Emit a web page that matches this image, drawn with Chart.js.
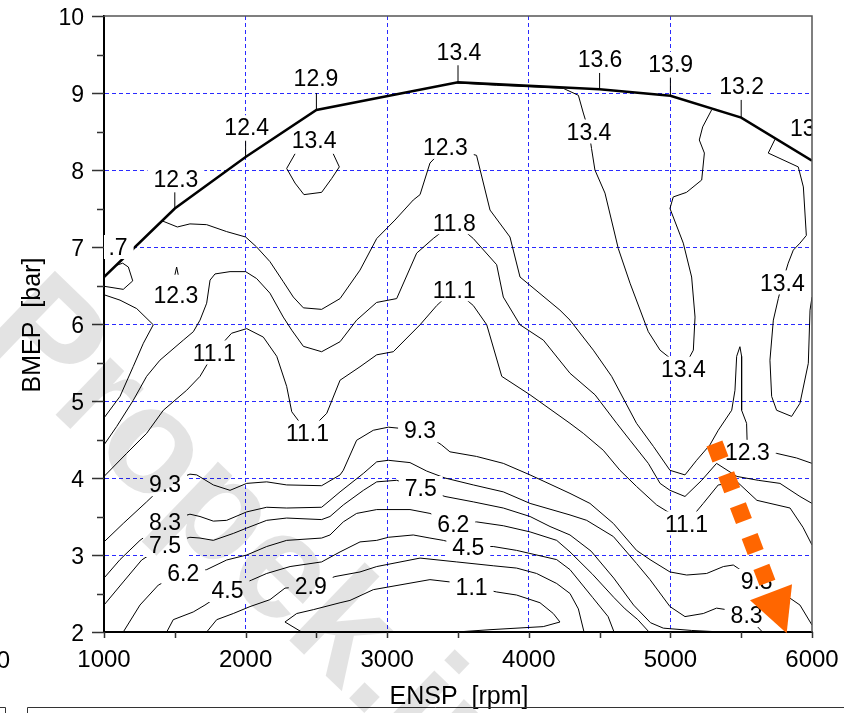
<!DOCTYPE html>
<html>
<head>
<meta charset="utf-8">
<script src="https://cdn.jsdelivr.net/npm/chart.js@4.4.0/dist/chart.umd.min.js"></script>
<style>
html, body { margin: 0; padding: 0; background: #fff; }
</style>
</head>
<body>
<canvas id="myChart" width="844" height="713"></canvas>
<script>
// axis values
const xTicks = [1000, 2000, 3000, 4000, 5000, 6000];
const yTicks = [2, 3, 4, 5, 6, 7, 8, 9, 10];

// full load line [rpm, bmep]
const fullLoad = [[1000,6.61],[1500,7.50],[2000,8.17],[2500,8.78],[3500,9.14],[4500,9.05],[5000,8.965],[5500,8.68],[6000,8.12]];

// contour lines [rpm, bmep]
const c1_1 = [[2396,2.0],[2278,2.13],[2361,2.24],[2478,2.29],[2667,2.38],[2737,2.41],[2902,2.55],[3302,2.68],[3443,2.65],[3596,2.59],[3773,2.52],[3914,2.48],[4079,2.38],[4173,2.24],[4220,2.13],[4102,2.07],[3726,2.03],[3490,2.0]];
const c2_9 = [[1725,2.0],[1796,2.16],[1913,2.24],[2031,2.33],[2172,2.42],[2278,2.57],[2460,2.60],[2631,2.72],[2808,2.78],[2926,2.85],[3232,2.96],[3491,2.91],[3749,2.86],[3914,2.83],[4055,2.76],[4197,2.63],[4291,2.50],[4350,2.30],[4390,2.0]];
const c4_5 = [[1443,2.0],[1489,2.16],[1630,2.26],[1713,2.35],[1872,2.545],[2043,2.675],[2149,2.76],[2314,2.85],[2537,2.91],[2667,3.04],[2808,3.17],[2926,3.19],[3008,3.23],[3184,3.26],[3302,3.22],[3396,3.19],[3573,3.11],[3749,3.11],[3914,3.06],[4008,3.02],[4197,2.94],[4291,2.81],[4450,2.45],[4560,2.20],[4602,2.0]];
const c6_2 = [[1136,2.0],[1254,2.35],[1384,2.61],[1560,2.77],[1725,2.81],[1866,2.935],[2008,3.0],[2149,3.11],[2290,3.19],[2537,3.22],[2596,3.26],[2690,3.43],[2784,3.54],[2926,3.59],[3161,3.59],[3302,3.54],[3467,3.41],[3631,3.43],[3820,3.38],[4009,3.30],[4197,3.19],[4291,3.04],[4450,2.75],[4600,2.45],[4680,2.30],[4770,2.16],[4849,2.0]];
const c7_5 = [[1000,2.35],[1136,2.65],[1266,2.935],[1431,3.13],[1607,3.23],[1678,3.22],[1772,3.19],[1913,3.28],[2008,3.35],[2149,3.45],[2290,3.48],[2537,3.46],[2596,3.50],[2690,3.65],[2832,3.84],[2926,3.95],[3067,3.97],[3237,3.87],[3408,3.76],[3608,3.69],[3820,3.61],[4009,3.50],[4150,3.37],[4291,3.26],[4440,3.05],[4600,2.70],[4740,2.35],[4860,2.12],[4950,2.05],[5150,2.02],[5364,2.0]];
const c8_3 = [[1000,2.70],[1113,2.94],[1254,3.19],[1431,3.43],[1607,3.53],[1678,3.50],[1772,3.44],[1866,3.45],[2008,3.56],[2149,3.62],[2290,3.61],[2537,3.62],[2596,3.71],[2667,3.82],[2832,4.06],[2926,4.21],[3008,4.23],[3161,4.20],[3279,4.09],[3408,4.0],[3608,3.91],[3820,3.82],[4009,3.67],[4291,3.52],[4409,3.45],[4597,3.24],[4761,2.89],[4856,2.68],[4997,2.33],[5103,2.20],[5232,2.24],[5326,2.31],[5397,2.29],[5538,2.22],[5650,2.0]];
const c9_3 = [[1000,3.17],[1136,3.41],[1301,3.69],[1431,3.92],[1607,4.05],[1655,4.04],[1772,3.91],[1890,3.84],[2008,3.93],[2149,3.95],[2290,3.91],[2537,3.90],[2667,4.04],[2690,4.10],[2784,4.49],[2902,4.62],[3008,4.66],[3232,4.62],[3384,4.43],[3443,4.34],[3631,4.28],[3820,4.19],[4009,4.04],[4291,3.80],[4432,3.67],[4597,3.41],[4761,3.06],[4856,2.94],[4997,2.78],[5115,2.74],[5256,2.76],[5374,2.85],[5444,2.87],[5609,2.665],[5797,2.50],[5915,2.35],[6000,2.09]];
const c11_1 = [[1000,4.02],[1160,4.32],[1301,4.58],[1419,4.88],[1584,5.14],[1678,5.32],[1778,5.63],[1901,5.88],[2008,5.94],[2125,5.83],[2220,5.58],[2290,5.19],[2326,4.86],[2437,4.59],[2573,4.84],[2667,5.27],[2808,5.445],[2926,5.60],[3043,5.64],[3232,5.99],[3350,6.24],[3473,6.45],[3608,6.24],[3703,5.99],[3809,5.32],[4009,5.08],[4291,4.71],[4385,4.58],[4526,4.36],[4644,4.10],[4761,3.89],[4903,3.65],[5114,3.41],[5232,3.67],[5338,3.91],[5477,3.94],[5611,3.71],[5845,3.61],[5936,3.36],[6000,3.13]];
const c11_8 = [[1000,4.43],[1090,4.67],[1207,5.01],[1301,5.32],[1395,5.53],[1560,5.79],[1631,5.90],[1678,6.05],[1725,6.27],[1749,6.57],[1784,6.65],[1890,6.68],[2000,6.68],[2078,6.59],[2172,6.40],[2266,6.09],[2326,5.92],[2408,5.71],[2537,5.64],[2667,5.77],[2784,6.05],[2925,6.28],[3067,6.33],[3208,6.92],[3325,7.11],[3473,7.32],[3608,7.11],[3773,6.77],[3820,6.35],[3938,5.99],[4103,5.79],[4291,5.36],[4468,5.08],[4621,4.71],[4715,4.49],[4844,4.19],[4927,3.93],[4997,3.84],[5103,3.76],[5221,3.97],[5326,4.19],[5470,4.02],[5620,3.97],[5774,3.93],[5915,3.76],[6000,3.67]];
const c12_3 = [[1410,7.34],[1518,7.26],[1607,7.30],[1725,7.29],[1866,7.20],[2000,7.13],[2078,7.00],[2172,6.81],[2266,6.55],[2337,6.35],[2408,6.21],[2537,6.19],[2667,6.33],[2808,6.70],[2926,7.11],[3055,7.35],[3184,7.61],[3232,7.68],[3302,8.09],[3411,8.30],[3631,8.19],[3726,7.48],[3867,7.13],[3938,6.61],[4220,6.18],[4291,6.05],[4456,5.66],[4585,5.32],[4761,4.71],[4880,4.41],[4997,4.10],[5103,4.04],[5185,4.23],[5279,4.43],[5338,4.62],[5433,4.88],[5456,5.14],[5468,5.58],[5491,5.705],[5503,5.58],[5503,4.88],[5538,4.71],[5544,4.34],[5750,4.32],[5891,4.26],[6000,4.19]];
const c12_3b = [[1000,6.38],[1113,6.31],[1231,6.20],[1348,5.99],[1278,5.75],[1207,5.45],[1113,5.06],[1000,4.78]];
const c12_3c = [[1501,6.64],[1513,6.74],[1524,6.64]];
const c12_7 = [[1000,6.49],[1136,6.45],[1203,6.56],[1172,6.74],[1132,6.79],[1085,6.76]];
const c13_4a = [[2349,8.21],[2290,8.02],[2349,7.83],[2412,7.68],[2537,7.71],[2608,7.89],[2662,8.04],[2619,8.21]];
const c13_4b = [[3488,9.13],[3773,9.10],[4244,9.06],[4350,8.97],[4385,8.74],[4425,8.50],[4443,8.28],[4467,8.0],[4538,7.70],[4632,6.98],[4715,6.53],[4844,5.90],[4927,5.66],[5092,5.42],[5162,5.66],[5174,6.09],[5150,6.61],[5091,7.05],[4997,7.50],[5020,7.65],[5114,7.71],[5221,7.87],[5240,8.22],[5204,8.39],[5228,8.56],[5291,8.78]];
const c13_4c = [[5739,8.40],[5691,8.22],[5903,8.04],[5939,7.78],[5960,7.15],[5915,7.05],[5868,6.96],[5832,6.79],[5791,6.54],[5762,6.33],[5727,6.05],[5703,5.53],[5715,5.06],[5750,4.88],[5856,4.80],[5915,4.97],[5974,5.49],[5986,6.18],[6000,6.35]];

// short marks from the full load line up to its labels
const markRpm  = [1500, 2000, 2500, 3500, 4500, 5000, 5500];
const markBase = [7.50, 8.17, 8.78, 9.14, 9.05, 8.965, 8.68];
const markTop  = [7.71, 8.38, 9.00, 9.36, 9.26, 9.20, 8.91];

// contour labels
const labelText = ['12.3','12.4','12.9','13.4','13.6','13.9','13.2','13.4','.7','13.4','12.3','13.4','11.8','12.3','11.1','13.4','11.1','13.4','11.1','9.3','12.3','9.3','7.5','11.1','8.3','6.2','7.5','4.5','6.2','9.3','4.5','2.9','1.1','8.3'];
const labelRpm  = [1508, 2008, 2497, 3507, 4503, 5002, 5503, 6002, 1099, 2484, 3411, 4425, 3473, 1508, 3473, 5791, 1778, 5092, 2437, 3232, 5544, 1431, 3237, 5114, 1431, 3467, 1431, 3573, 1560, 5609, 1872, 2460, 3596, 5538];
const labelBmep = [7.89, 8.555, 9.195, 9.536, 9.438, 9.377, 9.091, 8.545, 7.0, 8.39, 8.30, 8.50, 7.32, 6.38, 6.45, 6.54, 5.63, 5.42, 4.59, 4.62, 4.34, 3.92, 3.87, 3.41, 3.43, 3.41, 3.13, 3.11, 2.77, 2.665, 2.545, 2.60, 2.59, 2.22];
// labels painted over the full load line
const labelsOnTop = [8];

// trend arrow
const arrowFrom = [5311, 4.448];
const arrowTo = [5821, 1.983];

const contours = [c1_1, c2_9, c4_5, c6_2, c7_5, c8_3, c9_3, c11_1, c11_8, c12_3, c12_3b, c12_3c, c12_7, c13_4a, c13_4b, c13_4c];

const toXY = arr => arr.map(p => ({x: p[0], y: p[1]}));

// Chart.js paints datasets from the last index to the first,
// so the full load line goes first to end up on top
const datasets = [{
    data: toXY(fullLoad),
    showLine: true,
    borderColor: '#000',
    borderWidth: 2.5,
    pointRadius: 0
}];
const fullLoadIndex = 0;
contours.forEach(c => {
    datasets.push({
        data: toXY(c),
        showLine: true,
        borderColor: '#000',
        borderWidth: 1,
        pointRadius: 0,
        fill: false
    });
});
markRpm.forEach((r, i) => {
    datasets.push({
        data: toXY([[r, markBase[i]], [r, markTop[i]]]),
        showLine: true, borderColor: '#000', borderWidth: 1, pointRadius: 0
    });
});

const FONT = '"Liberation Sans", Arial, sans-serif';

function drawLabels(chart, onTop) {
    const {ctx, chartArea: a, scales: {x, y}} = chart;
    ctx.save();
    ctx.beginPath();
    ctx.rect(a.left, a.top, a.right - a.left, a.bottom - a.top);
    ctx.clip();
    ctx.font = '23px ' + FONT;
    ctx.textAlign = 'center';
    ctx.textBaseline = 'alphabetic';
    labelText.forEach((t, i) => {
        if (labelsOnTop.includes(i) !== onTop) return;
        const px = x.getPixelForValue(labelRpm[i]);
        const py = y.getPixelForValue(labelBmep[i]);
        const w = ctx.measureText(t).width;
        ctx.fillStyle = '#fff';
        ctx.fillRect(px - w / 2 - 6, py - 12, w + 12, 24);
        ctx.fillStyle = '#000';
        ctx.fillText(t, px, py + 8.2);
    });
    ctx.restore();
}

const overlay = {
    id: 'overlay',
    beforeDatasetDraw(chart, args) {
        if (args.index === fullLoadIndex) drawLabels(chart, false);
    },
    afterDatasetsDraw(chart) {
        const {ctx, scales: {x, y}} = chart;
        drawLabels(chart, true);
        // arrow
        const p0x = x.getPixelForValue(arrowFrom[0]), p0y = y.getPixelForValue(arrowFrom[1]);
        const p1x = x.getPixelForValue(arrowTo[0]), p1y = y.getPixelForValue(arrowTo[1]);
        const dx = p1x - p0x, dy = p1y - p0y, len = Math.hypot(dx, dy);
        const ux = dx / len, uy = dy / len;
        const bx = p1x - ux * 44, by = p1y - uy * 44;
        ctx.save();
        ctx.strokeStyle = '#ff6600';
        ctx.fillStyle = '#ff6600';
        ctx.lineWidth = 17;
        ctx.lineCap = 'butt';
        ctx.setLineDash([17, 16]);
        ctx.beginPath();
        ctx.moveTo(p0x, p0y);
        ctx.lineTo(bx, by);
        ctx.stroke();
        ctx.setLineDash([]);
        ctx.beginPath();
        ctx.moveTo(p1x, p1y);
        ctx.lineTo(bx - uy * 22.5, by + ux * 22.5);
        ctx.lineTo(bx + uy * 22.5, by - ux * 22.5);
        ctx.closePath();
        ctx.fill();
        ctx.restore();
    },
    afterDraw(chart) {
        const {ctx, chartArea: a, scales: {x, y}} = chart;
        ctx.save();
        // frame top and right
        ctx.strokeStyle = '#555';
        ctx.lineWidth = 1.5;
        ctx.beginPath();
        ctx.moveTo(a.left, a.top);
        ctx.lineTo(a.right, a.top);
        ctx.lineTo(a.right, a.bottom);
        ctx.stroke();
        // tick marks
        ctx.strokeStyle = '#333';
        ctx.lineWidth = 1.5;
        ctx.beginPath();
        for (let v = 2; v <= 10; v += 0.5) {
            const py = Math.round(y.getPixelForValue(v)) + 0.5;
            ctx.moveTo(a.left - (v % 1 === 0 ? 12 : 7), py);
            ctx.lineTo(a.left, py);
        }
        for (let v = 1000; v <= 6000; v += 500) {
            const px = Math.round(x.getPixelForValue(v)) + 0.5;
            ctx.moveTo(px, a.bottom);
            ctx.lineTo(px, a.bottom + 6);
        }
        ctx.stroke();
        // axis titles
        ctx.fillStyle = '#000';
        ctx.font = '25px ' + FONT;
        ctx.textAlign = 'center';
        ctx.textBaseline = 'middle';
        ctx.fillText('ENSP  [rpm]', 459, 697);
        ctx.save();
        ctx.translate(33, 325);
        ctx.rotate(-Math.PI / 2);
        ctx.fillText('BMEP  [bar]', 0, 0);
        ctx.restore();
        // cut label of the neighbouring plot
        ctx.font = '24px ' + FONT;
        ctx.textAlign = 'right';
        ctx.textBaseline = 'alphabetic';
        ctx.fillText('0', 10, 668);
        // boxes below
        ctx.strokeStyle = '#333';
        ctx.lineWidth = 1;
        ctx.beginPath();
        ctx.moveTo(0, 707.5); ctx.lineTo(5.5, 707.5); ctx.lineTo(5.5, 713);
        ctx.moveTo(27.5, 713); ctx.lineTo(27.5, 707.5); ctx.lineTo(844, 707.5);
        ctx.stroke();
        // watermark
        ctx.font = 'bold 150px ' + FONT;
        ctx.textAlign = 'left';
        ctx.textBaseline = 'alphabetic';
        ctx.translate(-24, 338);
        ctx.rotate(44 * Math.PI / 180);
        ctx.fillStyle = 'rgba(0,0,0,0.11)';
        ctx.fillText('Propek.ir', 0, 0);
        ctx.restore();
    }
};

const gridColor = (lo, hi) => c => (c.tick && c.tick.value > lo && c.tick.value < hi) ? '#2a2aff' : 'rgba(0,0,0,0)';

new Chart(document.getElementById('myChart'), {
    type: 'scatter',
    data: { datasets: datasets },
    options: {
        responsive: false,
        animation: false,
        devicePixelRatio: 1,
        layout: { padding: { left: 0, top: 16, right: 32, bottom: 0 } },
        plugins: { legend: { display: false }, tooltip: { enabled: false } },
        elements: { line: { tension: 0 }, point: { radius: 0 } },
        scales: {
            x: {
                type: 'linear',
                min: xTicks[0],
                max: xTicks[xTicks.length - 1],
                afterFit: s => { s.height = 81; s.paddingLeft = 0; s.paddingRight = 0; },
                afterBuildTicks: s => { s.ticks = xTicks.map(v => ({value: v})); },
                ticks: { color: '#000', font: { family: FONT, size: 24 }, padding: 14, maxRotation: 0, autoSkip: false, callback: v => String(v) },
                grid: { color: gridColor(1000, 6000), lineWidth: 1, drawTicks: false },
                border: { display: true, color: '#000', width: 2, dash: [4, 3] }
            },
            y: {
                type: 'linear',
                min: yTicks[0],
                max: yTicks[yTicks.length - 1],
                afterFit: s => { s.width = 104; s.paddingTop = 0; s.paddingBottom = 0; },
                afterBuildTicks: s => { s.ticks = yTicks.map(v => ({value: v})); },
                ticks: { color: '#000', font: { family: FONT, size: 23 }, padding: 20, labelOffset: 3, autoSkip: false, callback: v => String(v) },
                grid: { color: gridColor(2, 10), lineWidth: 1, drawTicks: false },
                border: { display: true, color: '#000', width: 2, dash: [4, 3] }
            }
        }
    },
    plugins: [overlay]
});
</script>
</body>
</html>
